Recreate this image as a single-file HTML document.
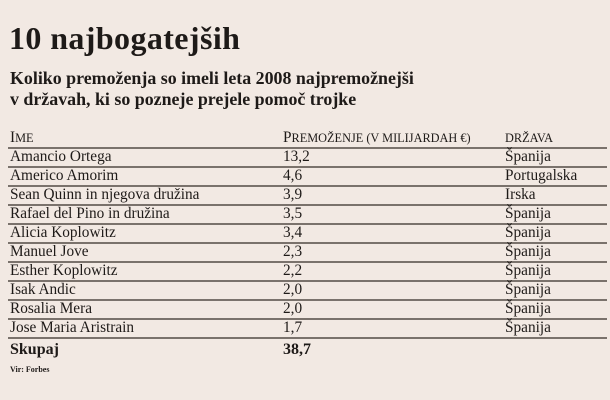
<!DOCTYPE html>
<html><head><meta charset="utf-8"><style>
body{margin:0;width:610px;height:400px;background:#f2e9e3;font-family:"Liberation Serif",serif;color:#1e1a18;position:relative;overflow:hidden}
.a{position:absolute;white-space:nowrap}
.t{left:9px;top:20px;font-size:32px;font-weight:bold;letter-spacing:0.4px}
.s{left:10px;font-size:17.9px;font-weight:bold;letter-spacing:0px}
.r{font-size:15.3px}
.l{position:absolute;left:8px;width:599px;height:2px;background:#7a726c}
.sc{font-size:12.3px}
</style></head><body>
<div class="a t">10 najbogatejših</div>
<div class="a s" style="top:68px">Koliko premoženja so imeli leta 2008 najpremožnejši</div>
<div class="a s" style="top:89px">v državah, ki so pozneje prejele pomoč trojke</div>
<div class="a r" style="left:10px;top:129px">I<span class="sc">ME</span></div>
<div class="a r" style="left:283px;top:129px">P<span class="sc">REMOŽENJE (V MILIJARDAH €)</span></div>
<div class="a r" style="left:505px;top:129px"><span class="sc">DRŽAVA</span></div>
<div class="l" style="top:147px"></div>
<div id="rows"></div>
<script>
var d=[["Amancio Ortega","13,2","Španija"],["Americo Amorim","4,6","Portugalska"],["Sean Quinn in njegova družina","3,9","Irska"],["Rafael del Pino in družina","3,5","Španija"],["Alicia Koplowitz","3,4","Španija"],["Manuel Jove","2,3","Španija"],["Esther Koplowitz","2,2","Španija"],["Isak Andic","2,0","Španija"],["Rosalia Mera","2,0","Španija"],["Jose Maria Aristrain","1,7","Španija"]];
var h="";d.forEach(function(r,i){var y=148+i*19;
h+='<div class="a r" style="left:10px;top:'+y+'px">'+r[0]+'</div><div class="a r" style="left:283px;top:'+y+'px">'+r[1]+'</div><div class="a r" style="left:505px;top:'+y+'px">'+r[2]+'</div><div class="l" style="top:'+(y+18)+'px"></div>';});
document.getElementById("rows").innerHTML=h;
</script>
<div class="a" style="left:10px;top:341px;font-size:16px;font-weight:bold">Skupaj</div>
<div class="a" style="left:283px;top:341px;font-size:16px;font-weight:bold">38,7</div>
<div class="a" style="left:10px;top:365px;font-size:8px;font-weight:bold">Vir: Forbes</div>
</body></html>
